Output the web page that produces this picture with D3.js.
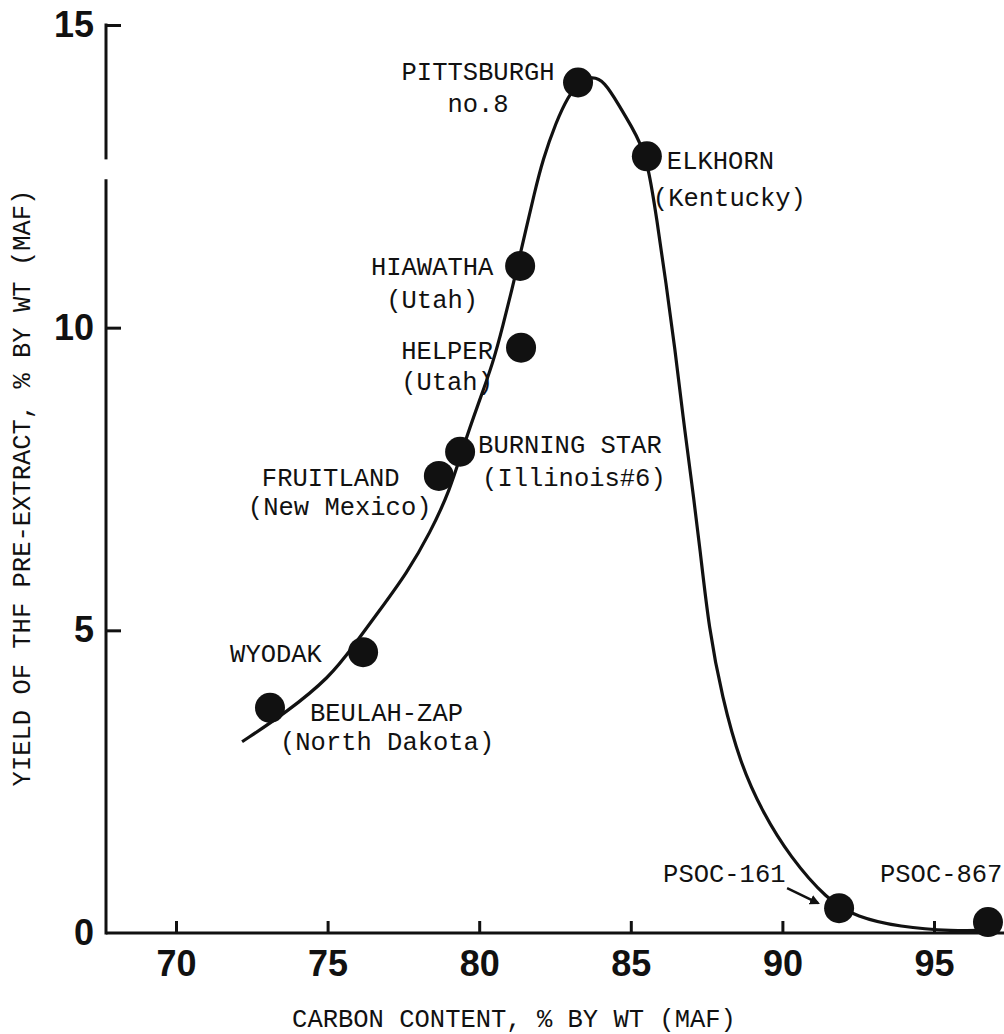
<!DOCTYPE html>
<html lang="en">
  <head>
    <meta charset="utf-8" />
    <title>Yield of THF pre-extract vs carbon content</title>
    <script src="https://cdn.jsdelivr.net/npm/d3@7"></script>
    <style>
      body {
        margin: 0;
        background: #fff;
      }

      .tick text {
        font-family: "Liberation Sans", Arial, sans-serif;
        font-weight: bold;
        font-size: 36px;
        fill: #111;
      }

      .tick line,
      .axis-line {
        stroke: #111;
        stroke-width: 3;
      }

      .label,
      .title {
        font-family: "Liberation Mono", "Courier New", monospace;
        font-size: 25.5px;
        fill: #111;
      }
    </style>
  </head>

  <body>
    <svg id="chart"></svg>

    <script>
      // coal samples
      const coals = ["BEULAH-ZAP", "WYODAK", "FRUITLAND", "BURNING STAR", "HELPER", "HIAWATHA", "PITTSBURGH", "ELKHORN", "PSOC-161", "PSOC-867"];
      const carbon = [73.1, 76.17, 78.67, 79.37, 81.38, 81.35, 83.26, 85.53, 91.87, 96.78];
      const yieldPct = [3.72, 4.64, 7.55, 7.95, 9.67, 11.02, 14.05, 12.83, 0.41, 0.18];
      const subLabels = ["(North Dakota)", "", "(New Mexico)", "(Illinois#6)", "(Utah)", "(Utah)", "no.8", "(Kentucky)", "", ""];

      // hand drawn trend curve
      const curveCarbon = [72.18, 73.66, 75.08, 75.84, 76.73, 77.62, 78.38, 79.04, 79.47, 79.96, 80.46, 80.79, 81.08, 81.31, 81.54, 81.81, 82.1, 82.53, 82.93, 83.32, 83.72, 84.12, 84.64, 85.04, 85.3, 85.57, 85.86, 86.16, 86.46, 86.72, 87.02, 87.28, 87.58, 88.01, 88.6, 89.36, 90.25, 91.47, 92.46, 93.88, 95.53, 97.18];
      const curveYield = [3.16, 3.65, 4.23, 4.73, 5.34, 5.95, 6.61, 7.32, 8.03, 8.73, 9.42, 10.05, 10.63, 11.12, 11.62, 12.2, 12.78, 13.39, 13.82, 14.07, 14.15, 14.08, 13.65, 13.31, 13.06, 12.69, 11.79, 10.74, 9.64, 8.53, 7.4, 6.36, 5.01, 3.9, 2.81, 1.98, 1.26, 0.55, 0.26, 0.1, 0.03, 0.05];

      const xTicks = [70, 75, 80, 85, 90, 95];
      const yTicks = [0, 5, 10, 15];

      // label placement, px offsets from the dot for each text line
      const labelLayout = [
        { anchor: "start", lines: [[40, 13], [10, 42]] },
        { anchor: "start", lines: [[-133, 10]] },
        { anchor: "start", lines: [[-177, 10], [-191, 39]] },
        { anchor: "start", lines: [[18, 1], [22, 34]] },
        { anchor: "middle", lines: [[-74, 11], [-74, 42]] },
        { anchor: "middle", lines: [[-88, 9], [-88, 42]] },
        { anchor: "middle", lines: [[-100, -3], [-100, 29]] },
        { anchor: "start", lines: [[20, 13], [6, 50]] },
        { anchor: "start", lines: [[-176, -26]] },
        { anchor: "start", lines: [[-108, -40]] }
      ];

      const width = 1004;
      const height = 1034;

      const svg = d3.select("#chart").attr("width", width).attr("height", height);

      svg
        .append("defs")
        .append("marker")
        .attr("id", "arrow")
        .attr("viewBox", "0 0 10 10")
        .attr("refX", 8)
        .attr("refY", 5)
        .attr("markerWidth", 4)
        .attr("markerHeight", 4)
        .attr("orient", "auto")
        .append("path")
        .attr("d", "M0,0L10,5L0,10z")
        .attr("fill", "#111");

      const x = d3.scaleLinear().domain([70, 95]).range([176, 934]);
      const y = d3.scaleLinear().domain([0, 15]).range([933, 25]);

      const axisLeftX = 106;

      // axis lines (the y axis has a small break near the top, as in the original)
      svg
        .append("line")
        .attr("class", "axis-line")
        .attr("x1", axisLeftX)
        .attr("x2", width)
        .attr("y1", y(0))
        .attr("y2", y(0));
      svg
        .append("line")
        .attr("class", "axis-line")
        .attr("x1", axisLeftX)
        .attr("x2", axisLeftX)
        .attr("y1", y(0) + 1.5)
        .attr("y2", y(12.45));
      svg
        .append("line")
        .attr("class", "axis-line")
        .attr("x1", axisLeftX)
        .attr("x2", axisLeftX)
        .attr("y1", y(12.78))
        .attr("y2", y(15) - 1.5);

      const xAxis = d3.axisBottom(x).tickValues(xTicks).tickSize(-12).tickPadding(17);
      svg
        .append("g")
        .attr("transform", `translate(0,${y(0)})`)
        .call(xAxis)
        .call(g => g.select(".domain").remove());

      const yAxis = d3.axisLeft(y).tickValues(yTicks).tickSize(-15).tickPadding(12);
      svg
        .append("g")
        .attr("transform", `translate(${axisLeftX},0)`)
        .call(yAxis)
        .call(g => g.select(".domain").remove())
        .call(g => g.selectAll(".tick").filter(d => d === 0).select("line").remove());

      // trend curve
      const curvePts = curveCarbon.map((c, i) => [c, curveYield[i]]);
      svg
        .append("path")
        .datum(curvePts)
        .attr("fill", "none")
        .attr("stroke", "#111")
        .attr("stroke-width", 3.2)
        .attr("d", d3.line().x(d => x(d[0])).y(d => y(d[1])).curve(d3.curveBasis));

      // points
      const pts = coals.map((name, i) => ({ name, sub: subLabels[i], c: carbon[i], v: yieldPct[i], lay: labelLayout[i] }));

      svg
        .append("g")
        .selectAll("circle")
        .data(pts)
        .join("circle")
        .attr("cx", d => x(d.c))
        .attr("cy", d => y(d.v))
        .attr("r", 15)
        .attr("fill", "#111");

      // labels
      const lab = svg
        .append("g")
        .selectAll("g")
        .data(pts)
        .join("g")
        .attr("transform", d => `translate(${x(d.c)},${y(d.v)})`);

      lab.each(function(d) {
        const g = d3.select(this);
        const texts = [d.name, d.sub].filter(t => t);
        texts.forEach((t, k) => {
          g.append("text")
            .attr("class", "label")
            .attr("text-anchor", d.lay.anchor)
            .attr("x", d.lay.lines[k][0])
            .attr("y", d.lay.lines[k][1])
            .text(t);
        });
      });

      // arrow for PSOC-161
      const p161 = pts[8];
      svg
        .append("line")
        .attr("x1", x(p161.c) - 52)
        .attr("y1", y(p161.v) - 20)
        .attr("x2", x(p161.c) - 21)
        .attr("y2", y(p161.v) - 5)
        .attr("stroke", "#111")
        .attr("stroke-width", 2.5)
        .attr("marker-end", "url(#arrow)");

      // axis titles
      svg
        .append("text")
        .attr("class", "title")
        .attr("text-anchor", "middle")
        .attr("x", 514)
        .attr("y", 1027)
        .text("CARBON CONTENT, % BY WT (MAF)");

      svg
        .append("text")
        .attr("class", "title")
        .attr("text-anchor", "middle")
        .attr("transform", "translate(30,488) rotate(-90)")
        .text("YIELD OF THF PRE-EXTRACT, % BY WT (MAF)");
    </script>
  </body>
</html>
